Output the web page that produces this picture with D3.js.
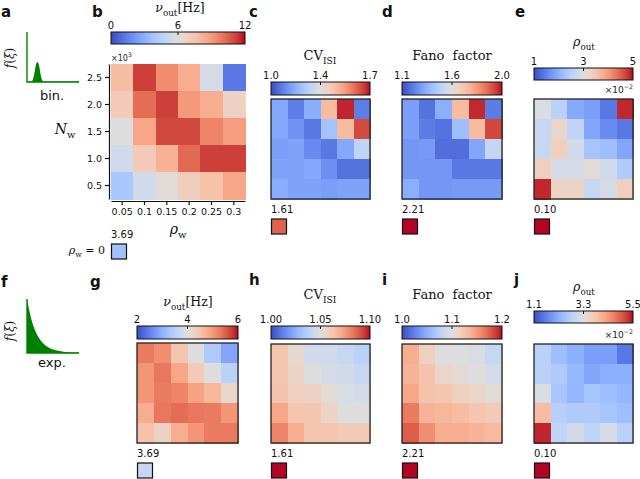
<!DOCTYPE html>
<html><head><meta charset="utf-8">
<script src="https://cdn.jsdelivr.net/npm/d3@7"></script>
<style>body{margin:0;background:#fff}svg{display:block}</style>
</head><body><svg id="c" width="640" height="479"></svg>
<script>
// ---------- data ----------
const rhoW = ["0.05","0.1","0.15","0.2","0.25","0.3"];
const nW = ["2.5","2.0","1.5","1.0","0.5"]; // top -> bottom (x10^3)

const nuBin = [
 [7.8, 11.2, 9.4, 8.4, 5.6, 1.2],
 [7.2, 10.2, 11.2, 9.0, 8.4, 6.8],
 [6.0, 8.6, 11.0, 11.0, 9.6, 8.9],
 [5.4, 7.2, 8.2, 10.3, 11.2, 11.2],
 [4.0, 5.4, 6.2, 7.0, 7.6, 8.6]];
const cvBin = [
 [1.16, 1.08, 1.17, 1.46, 1.68, 1.08],
 [1.16, 1.12, 1.07, 1.22, 1.46, 1.64],
 [1.14, 1.15, 1.10, 1.07, 1.16, 1.28],
 [1.15, 1.15, 1.16, 1.11, 1.06, 1.06],
 [1.17, 1.15, 1.15, 1.14, 1.15, 1.15]];
const fanoBin = [
 [1.28, 1.18, 1.32, 1.69, 1.97, 1.20],
 [1.28, 1.20, 1.18, 1.37, 1.69, 1.93],
 [1.26, 1.27, 1.17, 1.17, 1.30, 1.47],
 [1.26, 1.26, 1.26, 1.19, 1.19, 1.19],
 [1.32, 1.26, 1.26, 1.27, 1.27, 1.27]];
const rhoBin = [ // x10^-2
 [2.92, 2.52, 1.92, 1.80, 1.40, 4.88],
 [2.68, 3.20, 2.60, 1.88, 1.60, 1.40],
 [2.68, 3.32, 2.80, 2.28, 2.20, 1.88],
 [3.32, 2.88, 2.88, 3.08, 2.80, 2.40],
 [4.88, 3.24, 3.24, 2.68, 2.88, 3.32]];
const nuExp = [
 [5.28, 5.12, 4.48, 4.00, 3.40, 2.88],
 [5.04, 5.32, 4.88, 4.40, 4.00, 3.52],
 [5.04, 5.28, 5.20, 4.92, 4.68, 4.20],
 [4.80, 5.32, 5.40, 5.32, 5.28, 5.04],
 [4.52, 4.28, 4.80, 5.04, 5.28, 5.28]];
const cvExp = [
 [1.062, 1.053, 1.045, 1.045, 1.042, 1.038],
 [1.062, 1.056, 1.050, 1.047, 1.045, 1.042],
 [1.063, 1.058, 1.057, 1.052, 1.048, 1.047],
 [1.072, 1.062, 1.062, 1.056, 1.050, 1.050],
 [1.080, 1.070, 1.062, 1.062, 1.060, 1.060]];
const fanoExp = [
 [1.140, 1.116, 1.100, 1.100, 1.096, 1.084],
 [1.136, 1.126, 1.110, 1.104, 1.100, 1.094],
 [1.144, 1.126, 1.124, 1.116, 1.110, 1.104],
 [1.164, 1.136, 1.134, 1.130, 1.124, 1.120],
 [1.176, 1.156, 1.140, 1.140, 1.136, 1.132]];
const rhoExp = [ // x10^-2
 [2.77, 2.42, 2.20, 1.98, 1.98, 1.54],
 [2.77, 2.64, 2.33, 2.07, 2.20, 2.20],
 [3.21, 2.55, 2.29, 2.51, 2.42, 2.29],
 [3.96, 2.73, 2.64, 2.64, 2.51, 2.42],
 [5.37, 2.86, 3.08, 2.86, 3.17, 2.77]];

// reference values at rho_w = 0
const nuRef = 3.69, cvRef = 1.61, fanoRef = 2.21, rhoRef = 0.10;

// colorbar ranges and tick labels
const nuBinDom = [0, 12],  nuBinTicks = ["0", "6", "12"];
const cvBinDom = [1.0, 1.7], cvBinTicks = ["1.0", "1.4", "1.7"];
const fanoBinDom = [1.1, 2.0], fanoBinTicks = ["1.1", "1.6", "2.0"];
const rhoBinDom = [1, 5], rhoBinTicks = ["1", "3", "5"];
const nuExpDom = [2, 6], nuExpTicks = ["2", "4", "6"];
const cvExpDom = [1.00, 1.10], cvExpTicks = ["1.00", "1.05", "1.10"];
const fanoExpDom = [1.0, 1.2], fanoExpTicks = ["1.0", "1.1", "1.2"];
const rhoExpDom = [1.1, 5.5], rhoExpTicks = ["1.1", "3.3", "5.5"];

// schematic input distributions (normalised coordinates)
const binX = [0, 0.08, 0.11, 0.14, 0.17, 0.2, 0.23, 0.26, 0.29, 0.32, 1];
const binY = [0.01, 0.01, 0.04, 0.16, 0.34, 0.4, 0.34, 0.16, 0.04, 0.01, 0.01];
const expX = [0, 0.05, 0.1, 0.15, 0.2, 0.3, 0.4, 0.5, 0.6, 0.7, 0.8, 0.9, 1];
const expY = [1, 0.76, 0.57, 0.43, 0.33, 0.19, 0.11, 0.065, 0.04, 0.025, 0.015, 0.01, 0.008];

// ---------- colormap (coolwarm) ----------
const coolwarm = ["#3b4cc0","#445acc","#4d68d7","#5775e1","#6282ea","#6c8ef1","#779af7","#82a5fb",
 "#8db0fe","#98b9ff","#a3c2ff","#aec9fd","#b8d0f9","#c2d5f4","#ccd9ee","#d5dbe6","#dddddd",
 "#e5d8d1","#ecd3c5","#f1ccb9","#f5c4ad","#f7bba0","#f7b194","#f7a687","#f49a7b","#f18d6f",
 "#ec7f63","#e57058","#de604d","#d55042","#cb3e38","#c0282f","#b40426"];
const cmap = d3.piecewise(d3.interpolateRgb, coolwarm);

const svg = d3.select("#c");
const defs = svg.append("defs");
const grad = defs.append("linearGradient").attr("id", "cw").attr("x1", "0").attr("x2", "1").attr("y1", "0").attr("y2", "0");
d3.range(0, 1.0001, 1 / 64).forEach(t => grad.append("stop").attr("offset", t).attr("stop-color", cmap(t)));

const SANS = "DejaVu Sans", SERIF = "DejaVu Serif";

function mathText(x, y, parts, size, anchor = "middle") {
  const t = svg.append("text").attr("x", x).attr("y", y).attr("text-anchor", anchor)
    .attr("font-family", SERIF).attr("font-size", size).attr("fill", "#111");
  let shifted = 0;
  parts.forEach(p => {
    const sp = t.append("tspan").text(p.t);
    if (p.it) sp.attr("font-style", "italic");
    const want = p.sub ? size * 0.3 : (p.sup ? -size * 0.4 : 0);
    if (want !== shifted) { sp.attr("dy", want - shifted); shifted = want; }
    if (p.sub || p.sup) sp.attr("font-size", size * 0.7);
    if (p.sans) sp.attr("font-family", SANS);
  });
  return t;
}

function panelLetter(x, y, s) {
  svg.append("text").attr("x", x).attr("y", y).text(s).attr("font-family", SANS)
    .attr("font-weight", "bold").attr("font-size", 15).attr("fill", "#111");
}

function heatmap(o) {
  const color = d3.scaleSequential(cmap).domain(o.dom).clamp(true);
  const x = d3.scaleBand().domain(rhoW).range([o.x, o.x + o.w]);
  const y = d3.scaleBand().domain(nW).range([o.y, o.y + o.h]);
  const cells = [];
  o.data.forEach((row, i) => row.forEach((v, j) => cells.push({r: nW[i], c: rhoW[j], v})));
  svg.append("g").attr("shape-rendering", "crispEdges").selectAll("rect").data(cells).join("rect")
    .attr("x", d => x(d.c)).attr("y", d => y(d.r))
    .attr("width", x.bandwidth() + 0.5).attr("height", y.bandwidth() + 0.5)
    .attr("fill", d => color(d.v));
  if (o.border) {
    svg.append("rect").attr("x", o.x).attr("y", o.y).attr("width", o.w).attr("height", o.h)
      .attr("fill", "none").attr("stroke", "#222").attr("stroke-width", 1.3);
  }
  // colorbar
  const cb = d3.scaleLinear().domain(o.dom).range([o.x, o.x + o.w]);
  svg.append("rect").attr("x", o.x).attr("y", o.cbY).attr("width", o.w).attr("height", o.cbH)
    .attr("fill", "url(#cw)").attr("stroke", "#111").attr("stroke-width", 1);
  const mid = (o.dom[0] + o.dom[1]) / 2;
  svg.append("line").attr("x1", cb(mid)).attr("x2", cb(mid)).attr("y1", o.cbY).attr("y2", o.cbY + 3)
    .attr("stroke", "#111").attr("stroke-width", 1);
  [o.dom[0], mid, o.dom[1]].forEach((v, k) => {
    svg.append("text").attr("x", cb(v)).attr("y", o.cbY - 3).attr("text-anchor", "middle")
      .attr("font-family", SANS).attr("font-size", 10).attr("fill", "#111").text(o.ticks[k]);
  });
  // reference square
  const sq = 15;
  svg.append("text").attr("x", o.x).attr("y", o.sqY - 6).attr("font-family", SANS)
    .attr("font-size", 10).attr("fill", "#111").text(o.refLabel);
  svg.append("rect").attr("x", o.x + 0.5).attr("y", o.sqY).attr("width", sq).attr("height", sq)
    .attr("fill", color(o.refVal)).attr("stroke", "#111").attr("stroke-width", 1.2);
  return {x, y};
}

function x10m2(xRight, y) {
  mathText(xRight, y, [{t: "×10", sans: true}, {t: "−2", sup: true, sans: true}], 9, "end").attr("fill", "#222");
}

function distPanel(xs, ys, top, bottom, left, right) {
  const sx = d3.scaleLinear().domain([0, 1]).range([left, right]);
  const sy = d3.scaleLinear().domain([0, 1]).range([bottom, top]);
  const pts = xs.map((v, i) => [v, ys[i]]);
  svg.append("path").datum(pts)
    .attr("d", d3.area().x(d => sx(d[0])).y0(bottom).y1(d => sy(d[1])).curve(d3.curveMonotoneX))
    .attr("fill", "#008000");
  svg.append("path").attr("d", `M${left},${top}V${bottom}H${right}`).attr("fill", "none")
    .attr("stroke", "#008000").attr("stroke-width", 1.4);
}

// ---------- panel a / f ----------
panelLetter(1, 17, "a");
distPanel(binX, binY, 32, 82, 27, 79);
mathText(14, 58, [{t: "f", it: true}, {t: "("}, {t: "ξ", it: true}, {t: ")"}], 12)
  .attr("transform", "rotate(-90,14,58)");
svg.append("text").attr("x", 52).attr("y", 100).attr("text-anchor", "middle").attr("font-family", SANS)
  .attr("font-size", 13).attr("fill", "#111").text("bin.");

panelLetter(1, 287, "f");
distPanel(expX, expY, 299, 353, 27, 79);
mathText(14, 331, [{t: "f", it: true}, {t: "("}, {t: "ξ", it: true}, {t: ")"}], 12)
  .attr("transform", "rotate(-90,14,331)");
svg.append("text").attr("x", 52).attr("y", 367).attr("text-anchor", "middle").attr("font-family", SANS)
  .attr("font-size", 13).attr("fill", "#111").text("exp.");

// ---------- panel b ----------
panelLetter(92, 17, "b");
mathText(180, 12, [{t: "ν", it: true}, {t: "out", sub: true}, {t: "[Hz]"}], 12.5);
const bsc = heatmap({data: nuBin, dom: nuBinDom, ticks: nuBinTicks, x: 111, y: 64, w: 134, h: 135,
  cbY: 32, cbH: 12, sqY: 244, refVal: nuRef, refLabel: nuRef.toFixed(2), border: false});
const axL = svg.append("g").attr("transform", "translate(109,0)")
  .call(d3.axisLeft(bsc.y).tickSize(4).tickSizeOuter(0).tickPadding(3));
const axB = svg.append("g").attr("transform", "translate(0,201)")
  .call(d3.axisBottom(bsc.x).tickSize(4).tickSizeOuter(0).tickPadding(3));
[axL, axB].forEach(a => {
  a.selectAll("text").attr("font-family", SANS).attr("font-size", 9.5).attr("fill", "#111");
  a.selectAll("path,line").attr("stroke", "#111").attr("stroke-width", 1.2);
});
svg.append("text").attr("x", 111).attr("y", 61).attr("font-family", SANS).attr("font-size", 8).attr("fill", "#222")
  .text("×10").append("tspan").attr("dy", -4).attr("font-size", 6).text("3");
mathText(65, 134, [{t: "N", it: true}, {t: "w", sub: true}], 14);
mathText(178, 234, [{t: "ρ", it: true}, {t: "w", sub: true}], 14);
mathText(105, 254, [{t: "ρ", it: true}, {t: "w", sub: true}, {t: " = 0"}], 11, "end");

// ---------- panels c, d, e ----------
panelLetter(249, 17, "c");
mathText(320, 60, [{t: "CV"}, {t: "ISI", sub: true}], 13);
heatmap({data: cvBin, dom: cvBinDom, ticks: cvBinTicks, x: 271, y: 99, w: 99, h: 100,
  cbY: 82, cbH: 13, sqY: 219, refVal: cvRef, refLabel: cvRef.toFixed(2), border: true});

panelLetter(382, 17, "d");
mathText(452, 60, [{t: "Fano  factor"}], 13).style("white-space", "pre");
heatmap({data: fanoBin, dom: fanoBinDom, ticks: fanoBinTicks, x: 402, y: 99, w: 100, h: 100,
  cbY: 82, cbH: 13, sqY: 219, refVal: fanoRef, refLabel: fanoRef.toFixed(2), border: true});

panelLetter(515, 17, "e");
mathText(584, 46, [{t: "ρ", it: true}, {t: "out", sub: true}], 12.5);
heatmap({data: rhoBin, dom: rhoBinDom, ticks: rhoBinTicks, x: 534, y: 99, w: 99, h: 100,
  cbY: 68, cbH: 12, sqY: 219, refVal: rhoRef * 100, refLabel: rhoRef.toFixed(2), border: true});
x10m2(633, 93);

// ---------- panels g, h, i, j ----------
panelLetter(90, 287, "g");
mathText(188, 306, [{t: "ν", it: true}, {t: "out", sub: true}, {t: "[Hz]"}], 12.5);
heatmap({data: nuExp, dom: nuExpDom, ticks: nuExpTicks, x: 137, y: 343, w: 101, h: 100,
  cbY: 326, cbH: 13, sqY: 463, refVal: nuRef, refLabel: nuRef.toFixed(2), border: true});

panelLetter(249, 285, "h");
mathText(320, 299, [{t: "CV"}, {t: "ISI", sub: true}], 13);
heatmap({data: cvExp, dom: cvExpDom, ticks: cvExpTicks, x: 271, y: 344, w: 99, h: 99,
  cbY: 326, cbH: 13, sqY: 463, refVal: cvRef, refLabel: cvRef.toFixed(2), border: true});

panelLetter(382, 285, "i");
mathText(452, 299, [{t: "Fano  factor"}], 13).style("white-space", "pre");
heatmap({data: fanoExp, dom: fanoExpDom, ticks: fanoExpTicks, x: 402, y: 344, w: 100, h: 99,
  cbY: 326, cbH: 13, sqY: 463, refVal: fanoRef, refLabel: fanoRef.toFixed(2), border: true});

panelLetter(514, 285, "j");
mathText(584, 291, [{t: "ρ", it: true}, {t: "out", sub: true}], 12.5);
heatmap({data: rhoExp, dom: rhoExpDom, ticks: rhoExpTicks, x: 534, y: 344, w: 99, h: 99,
  cbY: 311, cbH: 12, sqY: 463, refVal: rhoRef * 100, refLabel: rhoRef.toFixed(2), border: true});
x10m2(633, 338);
</script></body></html>
